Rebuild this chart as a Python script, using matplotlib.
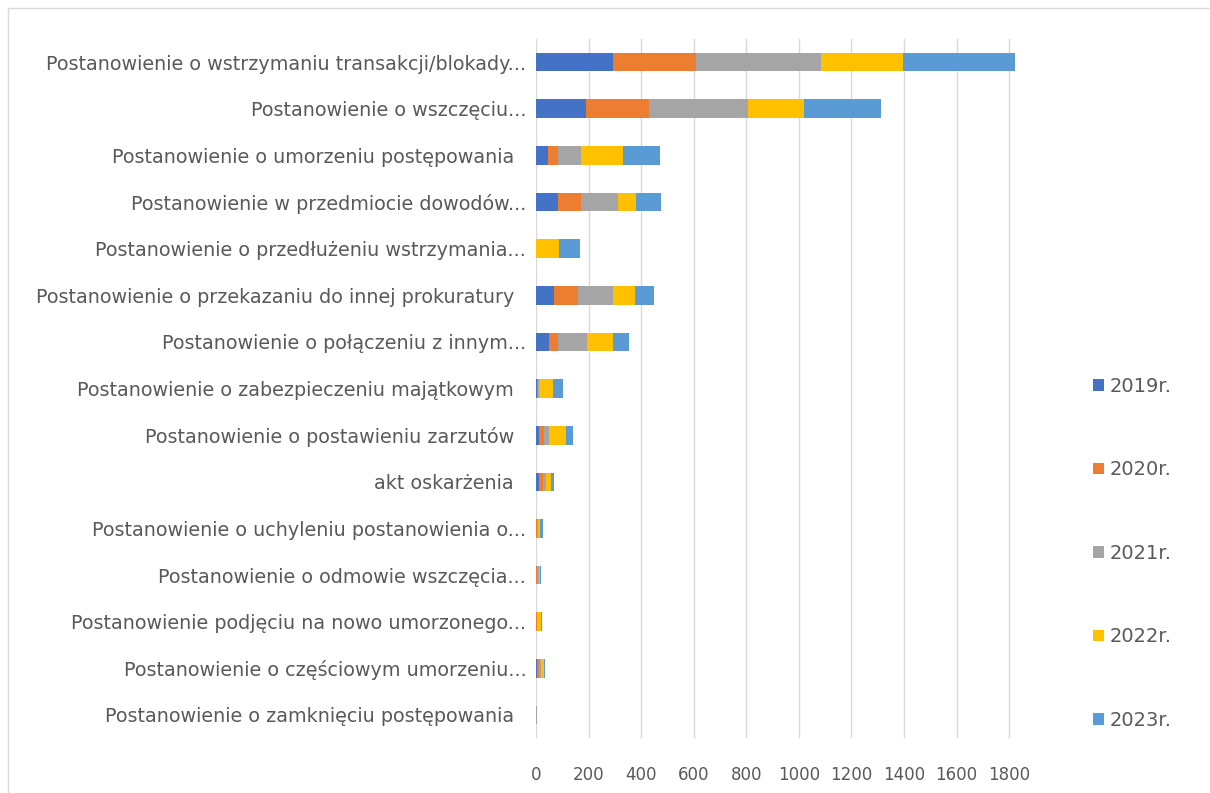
import matplotlib
matplotlib.use("Agg")
import matplotlib.pyplot as plt
from matplotlib.patches import Rectangle

categories = [
    "Postanowienie o wstrzymaniu transakcji/blokady...",
    "Postanowienie o wszczęciu...",
    "Postanowienie o umorzeniu postępowania  ",
    "Postanowienie w przedmiocie dowodów...",
    "Postanowienie o przedłużeniu wstrzymania...",
    "Postanowienie o przekazaniu do innej prokuratury  ",
    "Postanowienie o połączeniu z innym...",
    "Postanowienie o zabezpieczeniu majątkowym  ",
    "Postanowienie o postawieniu zarzutów  ",
    "akt oskarżenia  ",
    "Postanowienie o uchyleniu postanowienia o...",
    "Postanowienie o odmowie wszczęcia...",
    "Postanowienie podjęciu na nowo umorzonego...",
    "Postanowienie o częściowym umorzeniu...",
    "Postanowienie o zamknięciu postępowania  ",
]

years = ["2019r.", "2020r.", "2021r.", "2022r.", "2023r."]

v2019 = [294, 190, 44, 82, 0, 70, 51, 4, 13, 13, 0, 0, 0, 3, 0]
v2020 = [314, 239, 40, 91, 0, 89, 34, 4, 19, 13, 5, 2, 5, 10, 0]
v2021 = [475, 377, 89, 139, 0, 133, 110, 4, 19, 13, 3, 10, 0, 5, 2]
v2022 = [313, 212, 158, 67, 89, 85, 99, 53, 63, 19, 7, 4, 15, 12, 0]
v2023 = [427, 293, 139, 98, 79, 71, 61, 38, 25, 9, 10, 3, 3, 3, 2]

colors = ["#4472C4", "#ED7D31", "#A5A5A5", "#FFC000", "#5B9BD5"]

plt.rcParams["font.family"] = ["DejaVu Sans"]
text_color = "#595959"

fig = plt.figure(figsize=(12.1, 7.93), dpi=100)
# axis runs a little past the last gridline so the longest bar fits
ax = fig.add_axes([0.443, 0.069, 0.4025, 0.882])

series = [v2019, v2020, v2021, v2022, v2023]
ypos = list(range(len(categories)))[::-1]
left = [0] * len(categories)
for name, vals, col in zip(years, series, colors):
    ax.barh(ypos, vals, left=left, height=0.4, color=col, label=name, zorder=3)
    left = [a + b for a, b in zip(left, vals)]

ax.set_xlim(0, 1853)
ax.set_ylim(-0.5, len(categories) - 0.5)
ax.set_xticks(range(0, 1801, 200))
ax.set_yticks(ypos)
ax.set_yticklabels(categories)
ax.tick_params(axis="y", length=0, pad=7, labelsize=13.8, labelcolor=text_color)
ax.tick_params(axis="x", length=0, pad=20, labelsize=12, labelcolor=text_color)
ax.grid(axis="x", color="#D9D9D9", linewidth=1, zorder=0)
for sp in ax.spines.values():
    sp.set_visible(False)

leg = fig.legend(loc="upper left", bbox_to_anchor=(0.889, 0.547), frameon=False,
                 fontsize=14, labelspacing=3.32, handlelength=0.55,
                 handleheight=0.55, handletextpad=0.3, labelcolor=text_color)

# thin outer frame of the chart area
fig.patches.append(Rectangle((8 / 1210, -0.1), 1.2, 1 - 8 / 793 + 0.1,
                             transform=fig.transFigure, fill=False,
                             edgecolor="#D9D9D9", linewidth=1))

fig.savefig("out.png", dpi=100)
